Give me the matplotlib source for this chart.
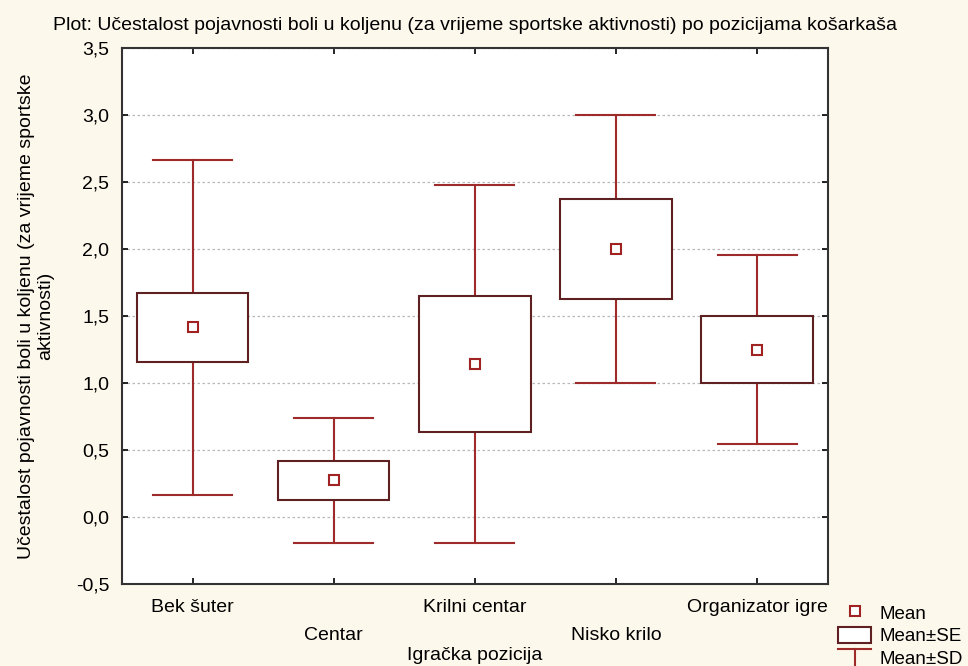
import matplotlib

matplotlib.use("Agg")
import matplotlib.pyplot as plt
import numpy as np
from matplotlib.legend_handler import HandlerBase
from matplotlib.lines import Line2D
from matplotlib.patches import Patch, Rectangle
from matplotlib.ticker import FuncFormatter, MultipleLocator

# values
positions = ["Bek šuter", "Centar", "Krilni centar", "Nisko krilo", "Organizator igre"]
mean = [1.417, 0.273, 1.142, 2.0, 1.25]
se = [0.257, 0.143, 0.507, 0.375, 0.25]
sd = [1.25, 0.468, 1.336, 1.0, 0.707]

title = "Plot: Učestalost pojavnosti boli u koljenu (za vrijeme sportske aktivnosti) po pozicijama košarkaša"
ylabel = "Učestalost pojavnosti boli u koljenu (za vrijeme sportske\naktivnosti)"
xlabel = "Igračka pozicija"

BG = "#fdf8ec"
BOX_C = "#5e2020"
WHISK_C = "#9e2a2a"
MEAN_C = "#a02222"

plt.rcParams["font.family"] = ["Liberation Sans", "DejaVu Sans"]
plt.rcParams["font.size"] = 14


class WhiskerHandler(HandlerBase):
    def create_artists(self, legend, orig_handle, xdescent, ydescent,
                       width, height, fontsize, trans):
        x0, y0 = -xdescent, -ydescent
        cap = Line2D([x0, x0 + width], [y0 + height, y0 + height],
                     color=WHISK_C, lw=1.5, transform=trans)
        stem = Line2D([x0 + width / 2, x0 + width / 2], [y0 + height, y0 - 10],
                      color=WHISK_C, lw=1.5, transform=trans)
        return [cap, stem]


fig = plt.figure(figsize=(9.68, 6.66), dpi=100, facecolor=BG)
ax = fig.add_axes([0.126, 0.123, 0.729, 0.805])
ax.set_facecolor("white")

x = np.arange(len(positions))
box_w = 0.79
cap_w = 0.56
for xi, m, s_e, s_d in zip(x, mean, se, sd):
    # whiskers (mean +- SD)
    ax.plot([xi, xi], [m + s_e, m + s_d], color=WHISK_C, lw=1.5, zorder=3)
    ax.plot([xi, xi], [m - s_e, m - s_d], color=WHISK_C, lw=1.5, zorder=3)
    ax.plot([xi - cap_w / 2, xi + cap_w / 2], [m + s_d] * 2, color=WHISK_C, lw=1.5, zorder=3)
    ax.plot([xi - cap_w / 2, xi + cap_w / 2], [m - s_d] * 2, color=WHISK_C, lw=1.5, zorder=3)
    # box (mean +- SE)
    ax.add_patch(Rectangle((xi - box_w / 2, m - s_e), box_w, 2 * s_e,
                           facecolor="white", edgecolor=BOX_C, lw=1.5, zorder=4))
ax.plot(x, mean, ls="none", marker="s", ms=7, mfc="white", mec=MEAN_C, mew=1.5, zorder=5)

ax.set_xlim(-0.5, len(positions) - 0.5)
ax.set_ylim(-0.5, 3.5)
ax.yaxis.set_major_locator(MultipleLocator(0.5))
ax.yaxis.set_major_formatter(FuncFormatter(lambda v, p: f"{v:.1f}".replace(".", ",")))
ax.set_xticks(x)
ax.set_xticklabels(positions)
for i, t in enumerate(ax.xaxis.get_major_ticks()):
    t.set_pad(11 if i % 2 == 0 else 31)
for t in ax.yaxis.get_major_ticks():
    t.set_pad(9)

ax.grid(axis="y", color="#b8b8b8", lw=0.9, ls=(0, (2, 2)))
ax.set_axisbelow(True)
ax.tick_params(direction="in", length=4, width=1.2, top=True, right=True, labelsize=14)
for sp in ax.spines.values():
    sp.set_color("#333333")
    sp.set_linewidth(1.5)

ax.set_title(title, fontsize=14, pad=13)
ax.set_ylabel(ylabel, fontsize=14, labelpad=16, linespacing=1.15)
ax.set_xlabel(xlabel, fontsize=14)
ax.xaxis.set_label_coords(0.5, -0.117)

sd_handle = Line2D([], [])
handles = [
    Line2D([], [], ls="none", marker="s", ms=7, mfc="white", mec=MEAN_C, mew=1.5),
    Patch(facecolor="white", edgecolor=BOX_C, lw=1.5),
    sd_handle,
]
labels = ["Mean", "Mean±SE", "Mean±SD"]
fig.legend(handles, labels, loc="upper left", bbox_to_anchor=(0.866, 0.093),
           bbox_transform=fig.transFigure, frameon=False, fontsize=13.5,
           handlelength=1.75, handleheight=0.95, handletextpad=0.45,
           labelspacing=0.22, borderpad=0, borderaxespad=0,
           handler_map={sd_handle: WhiskerHandler()})

fig.savefig("out.png", dpi=100, facecolor=BG)
